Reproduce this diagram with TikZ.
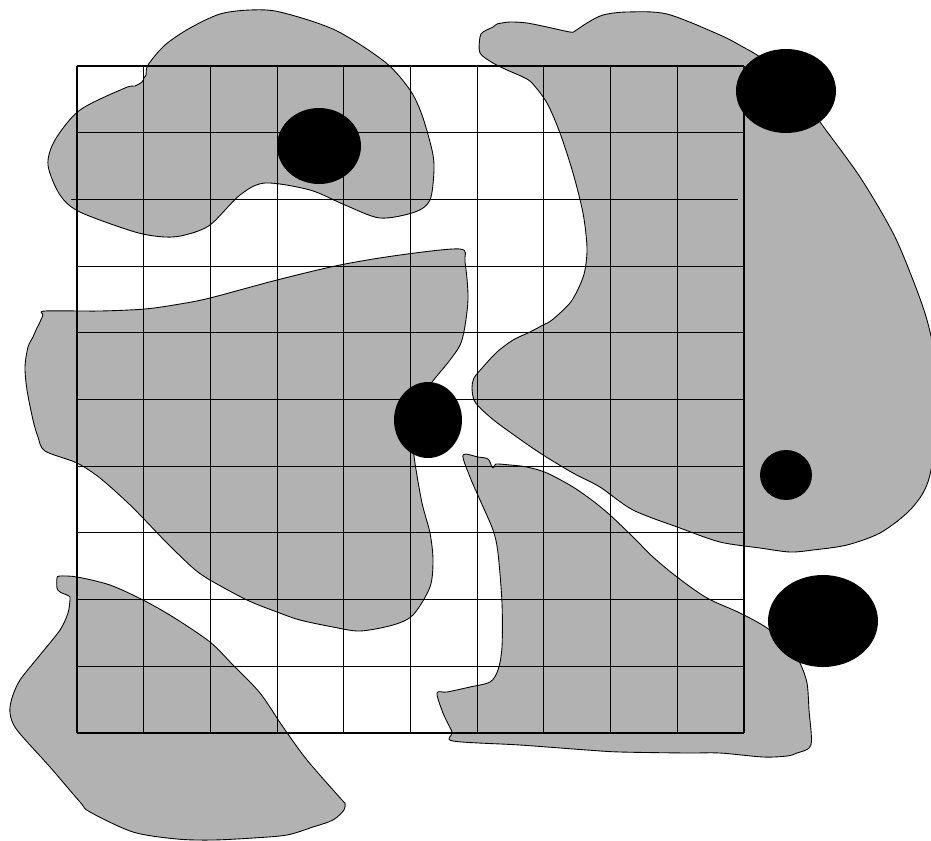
\documentclass[tikz,border=0pt]{standalone}
\usepackage{tikz}

\begin{document}
\begin{tikzpicture}[x=0.02cm, y=-0.02cm,
    blob/.style={fill=gray!60, draw=black, line width=0.5pt},
    gridline/.style={black, line width=0.6pt},
    spot/.style={fill=black}]
  \useasboundingbox (0,0) rectangle (931,840);
  \clip (0,0) rectangle (931,840);

  % Grey regions
  \filldraw[blob] plot[smooth cycle, tension=0.5] coordinates {
    (148,65) (165,45) (190,28) (220,14) (250,10) (280,12) (335,30) (385,62)
    (410,90) (422,115) (432,150) (434,170) (430,200) (415,212) (380,218)
    (345,205) (310,190) (265,183) (240,195) (210,225) (185,235) (165,237)
    (135,232) (80,212) (60,195) (48,165) (55,140) (80,110) (125,88) (135,86)
    (142,82) (144,78) (146,75)};
  \filldraw[blob] plot[smooth cycle, tension=0.5] coordinates {
    (45,311) (100,311) (145,309) (180,304) (210,298) (277,280) (340,265)
    (400,255) (460,249) (465,262) (468,300) (462,340) (450,360) (430,385)
    (418,410) (413,440) (415,463) (422,503) (430,533) (433,560) (430,587)
    (413,615) (393,625) (360,631) (333,627) (300,620) (277,612) (247,600)
    (210,580) (193,568) (167,543) (143,518) (127,502) (100,478) (77,463)
    (45,451) (38,437) (33,420) (27,390) (25,367) (28,347) (33,337) (36,330)
    (40,322) (43,315)};
  \filldraw[blob] plot[smooth cycle, tension=0.5] coordinates {
    (60,576) (77,577) (110,585) (143,600) (173,617) (210,642) (233,665)
    (260,693) (283,727) (307,760) (342,800) (345,803) (344,810) (333,820)
    (313,827) (287,835) (253,838) (213,840) (177,839) (133,832) (90,812)
    (80,802) (50,767) (17,730) (10,713) (12,698) (20,680) (40,655) (60,630)
    (68,613) (70,600) (70,597) (67,595) (60,592) (57,588) (57,578)};
  \filldraw[blob] plot[smooth cycle, tension=0.5] coordinates {
    (480,53) (480,37) (483,32) (493,27) (497,24) (510,22) (527,23) (547,27)
    (570,32) (575,31) (587,23) (603,15) (627,12) (667,14) (720,35) (743,47)
    (760,57) (790,80) (820,122) (860,177) (893,233) (913,280) (927,320)
    (935,360) (937,420) (931,470) (923,493) (907,513) (880,533) (847,545)
    (813,550) (790,552) (760,548) (720,542) (680,528) (633,510) (600,487)
    (573,473) (540,453) (507,430) (490,417) (475,402) (472,388) (474,378)
    (483,367) (497,352) (513,340) (530,332) (543,325) (552,320) (570,303)
    (580,285) (585,270) (587,247) (583,213) (573,173) (560,133) (547,103)
    (532,83) (523,77) (507,70) (493,63)};
  \filldraw[blob] plot[smooth cycle, tension=0.5] coordinates {
    (463,455) (478,457) (488,459) (492,467) (494,467) (496,464) (510,465)
    (527,467) (547,473) (573,487) (593,501) (610,515) (633,537) (653,557)
    (677,577) (707,598) (740,613) (767,628) (790,648) (800,663) (807,683)
    (809,710) (811,745) (797,753) (787,756) (763,757) (720,753) (687,753)
    (620,752) (587,750) (520,745) (453,741) (452,732) (443,713) (437,693)
    (447,692) (470,687) (490,682) (498,670) (502,647) (502,603) (498,553)
    (493,530) (480,500) (470,477)};

  % Grid 10 x 10
  \foreach \i in {0,...,10}
    \draw[gridline] ({77+66.7*\i},66) -- ({77+66.7*\i},733);
  \foreach \j in {0,1,3,4,...,10}
    \draw[gridline] (77,{66+66.7*\j}) -- (744,{66+66.7*\j});
  \draw[gridline] (71,199.4) -- (738,199.4);

  % Black spots
  \coordinate (S1) at (319,146);
  \coordinate (S2) at (428,420);
  \coordinate (S3) at (786,91);
  \coordinate (S4) at (786,475);
  \coordinate (S5) at (823,621);
  \fill[spot] (S1) ellipse [x radius=42, y radius=38];
  \fill[spot] (S2) ellipse [x radius=34, y radius=38];
  \fill[spot] (S3) ellipse [x radius=50, y radius=42];
  \fill[spot] (S4) ellipse [x radius=26, y radius=25];
  \fill[spot] (S5) ellipse [x radius=55, y radius=46];
\end{tikzpicture}
\end{document}
